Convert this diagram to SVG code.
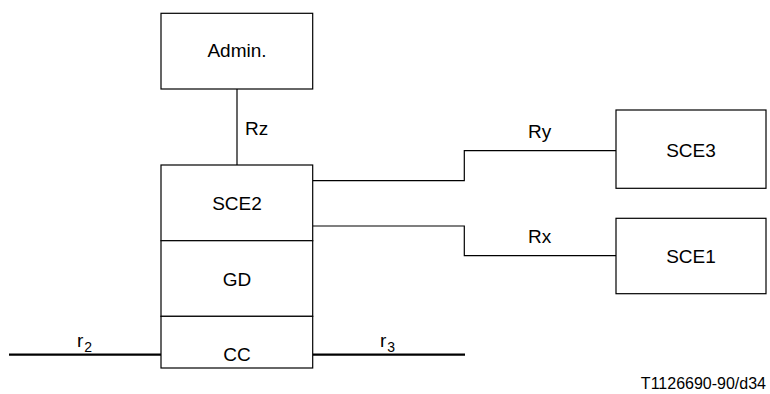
<svg xmlns="http://www.w3.org/2000/svg" width="770" height="394" viewBox="0 0 770 394">
<style>
.box{fill:#fff;stroke:#000;stroke-width:1.2}
.ln{fill:none;stroke:#000;stroke-width:1.2}
.thick{fill:none;stroke:#000;stroke-width:2.2}
text{font-family:"Liberation Sans",Arial,sans-serif;font-size:19px;fill:#000}
.c{text-anchor:middle}
.sub{font-size:14px}
.ref{font-size:16px}
</style>
<rect width="770" height="394" fill="#fff"/>
<g id="connectors">
<path class="ln" d="M237 89V165"/>
<path class="ln" d="M313 180.7H464.3V150.7H616"/>
<path class="ln" d="M313 226H464.3V255.7H616"/>
<path class="thick" d="M9 354.7H161"/>
<path class="thick" d="M313 354.7H465"/>
<text x="245" y="135">Rz</text>
<text x="528" y="138">Ry</text>
<text x="528" y="243">Rx</text>
<text x="77" y="347">r<tspan class="sub" dx="1" dy="5">2</tspan></text>
<text x="380" y="347">r<tspan class="sub" dx="1" dy="5">3</tspan></text>
</g>
<g id="admin">
<rect class="box" x="161" y="13.3" width="151.7" height="75.7"/>
<text class="c" x="237" y="57">Admin.</text>
</g>
<g id="sce2">
<rect class="box" x="161" y="165" width="151.7" height="75.7"/>
<text class="c" x="237" y="210">SCE2</text>
</g>
<g id="gd">
<rect class="box" x="161" y="240.7" width="151.7" height="75.7"/>
<text class="c" x="237" y="286">GD</text>
</g>
<g id="cc">
<rect class="box" x="161" y="316.3" width="151.7" height="51.7"/>
<text class="c" x="237" y="361">CC</text>
</g>
<g id="sce3">
<rect class="box" x="616" y="110" width="150" height="78.3"/>
<text class="c" x="691" y="157">SCE3</text>
</g>
<g id="sce1">
<rect class="box" x="616" y="218.3" width="150" height="75.4"/>
<text class="c" x="691" y="263">SCE1</text>
</g>
<text class="ref" x="766" y="389" text-anchor="end">T1126690-90/d34</text>
</svg>
